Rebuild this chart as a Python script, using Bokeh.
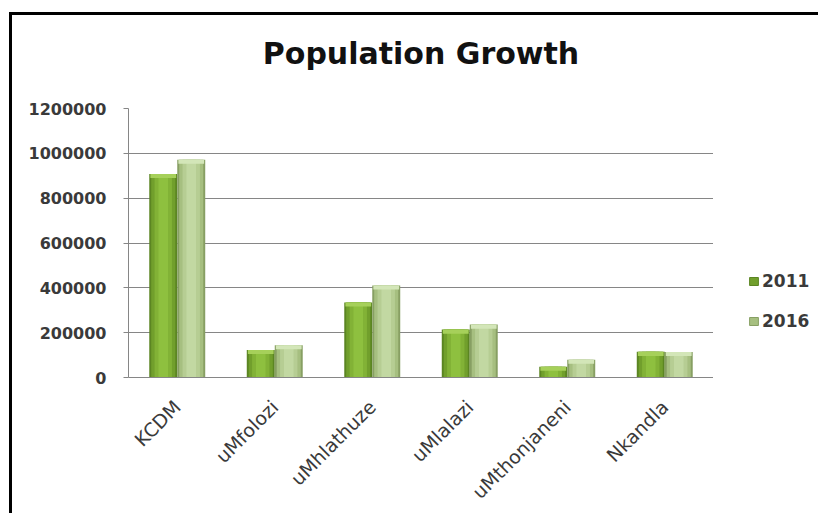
from math import pi
from bokeh.plotting import figure
from bokeh.layouts import row
from bokeh.models import (FactorRange, ColumnDataSource, Legend, LegendItem,
                          FixedTicker, NumeralTickFormatter, Range1d)
from bokeh.transform import dodge
from bokeh.embed import file_html
from bokeh.resources import INLINE

# ---- data ----
categories = ["KCDM", "uMfolozi", "uMhlathuze", "uMlalazi", "uMthonjaneni", "Nkandla"]
pop_2011 = [907519, 122889, 334459, 213601, 47818, 114416]
pop_2016 = [971135, 144363, 410465, 236000, 78883, 114284]
series_labels = ["2011", "2016"]
y_ticks = [0, 200000, 400000, 600000, 800000, 1000000, 1200000]
title_text = "Population Growth"

CAP = 18000  # depth of the lighter bevel cap at the top of each bar (data units)

src = ColumnDataSource(dict(
    cat=categories,
    v11=pop_2011,
    v16=pop_2016,
    c11=[max(v - CAP, 0) for v in pop_2011],
    c16=[max(v - CAP, 0) for v in pop_2016],
))

H = 498
p = figure(
    x_range=FactorRange(factors=categories, range_padding=0),
    y_range=Range1d(0, y_ticks[-1]),
    width=701, height=H,
    output_backend="svg", toolbar_location=None,
    min_border_left=116, min_border_right=0,
    min_border_top=93, min_border_bottom=135,
    title=title_text + "\n",
)

p.background_fill_color = "white"
p.border_fill_color = "white"
p.outline_line_color = None

p.title.align = "center"
p.title.text_font = "DejaVu Sans"
p.title.text_font_style = "bold"
p.title.text_font_size = "30px"
p.title.text_line_height = 1.0
p.title.text_color = "#111111"
p.title.standoff = 6

BW = 0.287
OFF = 0.1435

# shading layers: (width fraction, colour)
shade_11 = [(1.00, "#5b8522"), (0.86, "#719f2c"), (0.62, "#82b236"), (0.34, "#8ec03f")]
shade_16 = [(1.00, "#879f63"), (0.86, "#a6bf80"), (0.62, "#b6cd93"), (0.34, "#c2d8a2")]
cap_11 = "#a6d05a"
cap_16 = "#d3e6b8"

for frac, col in shade_11:
    p.vbar(x=dodge("cat", -OFF, range=p.x_range), top="v11", width=BW * frac,
           source=src, fill_color=col, line_color=None)
p.vbar(x=dodge("cat", -OFF, range=p.x_range), top="v11", bottom="c11", width=BW * 0.92,
       source=src, fill_color=cap_11, line_color=None)

for frac, col in shade_16:
    p.vbar(x=dodge("cat", OFF, range=p.x_range), top="v16", width=BW * frac,
           source=src, fill_color=col, line_color=None)
p.vbar(x=dodge("cat", OFF, range=p.x_range), top="v16", bottom="c16", width=BW * 0.92,
       source=src, fill_color=cap_16, line_color=None)

# axes
p.yaxis.ticker = FixedTicker(ticks=y_ticks)
p.yaxis.formatter = NumeralTickFormatter(format="0")
p.yaxis.axis_line_color = "#868686"
p.yaxis.major_tick_line_color = "#868686"
p.yaxis.major_tick_out = 5
p.yaxis.major_tick_in = 0
p.yaxis.minor_tick_line_color = None
p.yaxis.major_label_standoff = 17
p.yaxis.major_label_text_font = "DejaVu Sans"
p.yaxis.major_label_text_font_style = "bold"
p.yaxis.major_label_text_font_size = "16px"
p.yaxis.major_label_text_color = "#3a3a3a"

p.xaxis.axis_line_color = "#868686"
p.xaxis.major_tick_line_color = None
p.xaxis.major_label_orientation = pi / 4
p.xaxis.major_label_standoff = 20
p.xaxis.major_label_text_font = "DejaVu Sans"
p.xaxis.major_label_text_font_size = "19px"
p.xaxis.major_label_text_color = "#3a3a3a"

p.xgrid.grid_line_color = None
p.ygrid.grid_line_color = "#868686"
p.ygrid.grid_line_width = 1

# ---- legend panel (a small companion figure to the right) ----
leg = figure(width=105, height=H, x_range=Range1d(0, 1), y_range=Range1d(0, 1),
             output_backend="svg", toolbar_location=None,
             min_border_left=0, min_border_right=0, min_border_top=0, min_border_bottom=0)
leg.axis.visible = False
leg.grid.visible = False
leg.outline_line_color = None
leg.background_fill_color = "white"
leg.border_fill_color = "white"
key_src = ColumnDataSource(dict(x=[0], top=[0]))
k11 = leg.vbar(x="x", top="top", width=0.1, source=key_src,
               fill_color=shade_11[1][1], line_color=shade_11[0][1], visible=False)
k16 = leg.vbar(x="x", top="top", width=0.1, source=key_src,
               fill_color=shade_16[1][1], line_color=shade_16[0][1], visible=False)

legend = Legend(
    items=[LegendItem(label=series_labels[0], renderers=[k11]),
           LegendItem(label=series_labels[1], renderers=[k16])],
    location=(35, 46), orientation="vertical",
    glyph_width=11, glyph_height=10, label_standoff=3, spacing=20, label_height=16,
    padding=0, margin=0, border_line_alpha=0, background_fill_alpha=0,
    inactive_fill_alpha=0,
    label_text_font="DejaVu Sans", label_text_font_style="bold",
    label_text_font_size="17px", label_text_color="#3a3a3a",
)
leg.add_layout(legend)

layout = row(p, leg, spacing=0)
layout.styles = {"border-left": "3px solid black", "border-top": "3px solid black",
                 "margin-left": "9px", "margin-top": "12px"}

open("out.html", "w").write(file_html(layout, INLINE))
